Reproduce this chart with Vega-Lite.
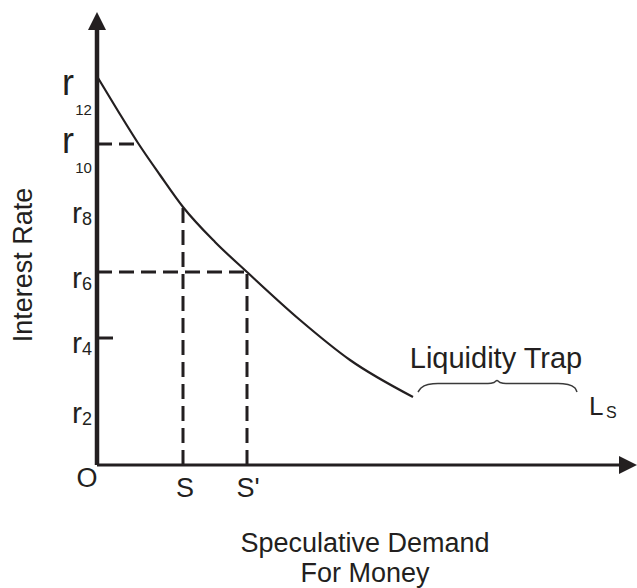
{
  "$schema": "https://vega.github.io/schema/vega-lite/v6.json",
  "width": 540,
  "height": 453,
  "padding": {"left": 97, "top": 12, "right": 0, "bottom": 123},
  "autosize": {"type": "none"},
  "background": "white",
  "config": {"view": {"stroke": null}, "text": {"font": "Liberation Sans", "color": "#231f20"}},
  "datasets": {
    "curve": [
      {"q": 1, "r": 387}, {"q": 21, "r": 354}, {"q": 41, "r": 322}, {"q": 63, "r": 290},
      {"q": 86, "r": 258}, {"q": 118, "r": 223}, {"q": 150, "r": 193}, {"q": 203, "r": 145},
      {"q": 253, "r": 105}, {"q": 316, "r": 68}
    ],
    "dashes": [
      {"x1": 0, "x2": 41, "y1": 321, "y2": 321},
      {"x1": 86, "x2": 86, "y1": 0, "y2": 258},
      {"x1": 0, "x2": 150, "y1": 193, "y2": 193},
      {"x1": 150, "x2": 150, "y1": 0, "y2": 193}
    ],
    "brace": [
      {"q": 321, "r": 73}, {"q": 324, "r": 77}, {"q": 331, "r": 80.5}, {"q": 341, "r": 81.5},
      {"q": 391, "r": 81.5}, {"q": 397, "r": 82.5}, {"q": 400, "r": 84.5}, {"q": 403, "r": 82.5},
      {"q": 409, "r": 81.5}, {"q": 461, "r": 81.5}, {"q": 471, "r": 80.5}, {"q": 478, "r": 77},
      {"q": 480, "r": 73}
    ],
    "labels": [
      {"g": "bigr", "lx": -29, "ly": 370, "t": "r"},
      {"g": "bigr", "lx": -29, "ly": 312, "t": "r"},
      {"g": "tiny", "lx": -13.5, "ly": 350, "t": "12"},
      {"g": "tiny", "lx": -13.5, "ly": 292, "t": "10"},
      {"g": "r", "lx": -20, "ly": 242, "t": "r"},
      {"g": "r", "lx": -20, "ly": 177, "t": "r"},
      {"g": "r", "lx": -20, "ly": 112, "t": "r"},
      {"g": "r", "lx": -20, "ly": 42, "t": "r"},
      {"g": "sub", "lx": -11, "ly": 240, "t": "8"},
      {"g": "sub", "lx": -11, "ly": 175, "t": "6"},
      {"g": "sub", "lx": -11, "ly": 110, "t": "4"},
      {"g": "sub", "lx": -11, "ly": 40, "t": "2"},
      {"g": "main", "lx": -10, "ly": -22, "t": "O"},
      {"g": "main", "lx": 88, "ly": -32, "t": "S"},
      {"g": "main", "lx": 151, "ly": -32, "t": "S'"},
      {"g": "title", "lx": 268, "ly": -87, "t": "Speculative Demand"},
      {"g": "title", "lx": 268, "ly": -117, "t": "For Money"},
      {"g": "trap", "lx": 399, "ly": 97, "t": "Liquidity Trap"},
      {"g": "L", "lx": 495, "ly": 50, "t": "L"},
      {"g": "Lsub", "lx": 509, "ly": 47, "t": "S"},
      {"g": "ytitle", "lx": -65, "ly": 200, "t": "Interest Rate"}
    ],
    "axes": [
      {"x1": 0, "x2": 0, "y1": 0, "y2": 436, "w": "y"},
      {"x1": 0, "x2": 524, "y1": 0, "y2": 0, "w": "x"},
      {"x1": 0, "x2": 16, "y1": 127, "y2": 127, "w": "tick"}
    ],
    "arrows": [
      {"q": 0, "r": 444, "d": "up"},
      {"q": 531, "r": 0, "d": "right"}
    ]
  },
  "layer": [
    {
      "data": {"name": "dashes"},
      "mark": {"type": "rule", "strokeWidth": 3, "strokeDash": [15, 7], "color": "#231f20"},
      "encoding": {
        "x": {"field": "x1", "type": "quantitative", "scale": {"domain": [0, 540], "nice": false, "zero": false}, "axis": null},
        "x2": {"field": "x2"},
        "y": {"field": "y1", "type": "quantitative", "scale": {"domain": [0, 453], "nice": false, "zero": false}, "axis": null},
        "y2": {"field": "y2"}
      }
    },
    {
      "data": {"name": "curve"},
      "mark": {"type": "line", "strokeWidth": 2.2, "color": "#231f20", "interpolate": "monotone"},
      "encoding": {
        "x": {"field": "q", "type": "quantitative", "axis": null},
        "y": {"field": "r", "type": "quantitative", "axis": null}
      }
    },
    {
      "data": {"name": "brace"},
      "mark": {"type": "line", "strokeWidth": 1.5, "color": "#3a3a3a", "interpolate": "monotone"},
      "encoding": {
        "x": {"field": "q", "type": "quantitative", "axis": null},
        "y": {"field": "r", "type": "quantitative", "axis": null}
      }
    },
    {
      "data": {"name": "axes"},
      "transform": [{"filter": "datum.w === 'y'"}],
      "mark": {"type": "rule", "strokeWidth": 4.5, "color": "#231f20"},
      "encoding": {
        "x": {"field": "x1", "type": "quantitative", "axis": null},
        "x2": {"field": "x2"},
        "y": {"field": "y1", "type": "quantitative", "axis": null},
        "y2": {"field": "y2"}
      }
    },
    {
      "data": {"name": "axes"},
      "transform": [{"filter": "datum.w !== 'y'"}],
      "mark": {"type": "rule", "strokeWidth": 3, "color": "#231f20"},
      "encoding": {
        "x": {"field": "x1", "type": "quantitative", "axis": null},
        "x2": {"field": "x2"},
        "y": {"field": "y1", "type": "quantitative", "axis": null},
        "y2": {"field": "y2"}
      }
    },
    {
      "data": {"name": "arrows"},
      "transform": [{"filter": "datum.d === 'up'"}],
      "mark": {"type": "point", "shape": "M0,-1L1,1L-1,1Z", "filled": true, "size": 324, "color": "#231f20", "opacity": 1},
      "encoding": {
        "x": {"field": "q", "type": "quantitative", "axis": null},
        "y": {"field": "r", "type": "quantitative", "axis": null}
      }
    },
    {
      "data": {"name": "arrows"},
      "transform": [{"filter": "datum.d === 'right'"}],
      "mark": {"type": "point", "shape": "M1,0L-1,-1L-1,1Z", "filled": true, "size": 324, "color": "#231f20", "opacity": 1},
      "encoding": {
        "x": {"field": "q", "type": "quantitative", "axis": null},
        "y": {"field": "r", "type": "quantitative", "axis": null}
      }
    },
    {
      "data": {"name": "labels"},
      "transform": [{"filter": "datum.g === 'bigr'"}],
      "mark": {"type": "text", "fontSize": 36, "align": "center", "baseline": "alphabetic"},
      "encoding": {
        "x": {"field": "lx", "type": "quantitative", "axis": null},
        "y": {"field": "ly", "type": "quantitative", "axis": null},
        "text": {"field": "t"}
      }
    },
    {
      "data": {"name": "labels"},
      "transform": [{"filter": "datum.g === 'tiny'"}],
      "mark": {"type": "text", "fontSize": 15, "align": "center", "baseline": "alphabetic"},
      "encoding": {
        "x": {"field": "lx", "type": "quantitative", "axis": null},
        "y": {"field": "ly", "type": "quantitative", "axis": null},
        "text": {"field": "t"}
      }
    },
    {
      "data": {"name": "labels"},
      "transform": [{"filter": "datum.g === 'r'"}],
      "mark": {"type": "text", "fontSize": 30, "align": "center", "baseline": "alphabetic"},
      "encoding": {
        "x": {"field": "lx", "type": "quantitative", "axis": null},
        "y": {"field": "ly", "type": "quantitative", "axis": null},
        "text": {"field": "t"}
      }
    },
    {
      "data": {"name": "labels"},
      "transform": [{"filter": "datum.g === 'sub'"}],
      "mark": {"type": "text", "fontSize": 18, "align": "left", "baseline": "alphabetic", "dx": -4},
      "encoding": {
        "x": {"field": "lx", "type": "quantitative", "axis": null},
        "y": {"field": "ly", "type": "quantitative", "axis": null},
        "text": {"field": "t"}
      }
    },
    {
      "data": {"name": "labels"},
      "transform": [{"filter": "datum.g === 'Lsub'"}],
      "mark": {"type": "text", "fontSize": 16, "align": "left", "baseline": "alphabetic"},
      "encoding": {
        "x": {"field": "lx", "type": "quantitative", "axis": null},
        "y": {"field": "ly", "type": "quantitative", "axis": null},
        "text": {"field": "t"}
      }
    },
    {
      "data": {"name": "labels"},
      "transform": [{"filter": "datum.g === 'main' || datum.g === 'title'"}],
      "mark": {"type": "text", "fontSize": 27, "align": "center", "baseline": "alphabetic"},
      "encoding": {
        "x": {"field": "lx", "type": "quantitative", "axis": null},
        "y": {"field": "ly", "type": "quantitative", "axis": null},
        "text": {"field": "t"}
      }
    },
    {
      "data": {"name": "labels"},
      "transform": [{"filter": "datum.g === 'L'"}],
      "mark": {"type": "text", "fontSize": 26, "align": "left", "baseline": "alphabetic", "dx": -3},
      "encoding": {
        "x": {"field": "lx", "type": "quantitative", "axis": null},
        "y": {"field": "ly", "type": "quantitative", "axis": null},
        "text": {"field": "t"}
      }
    },
    {
      "data": {"name": "labels"},
      "transform": [{"filter": "datum.g === 'trap'"}],
      "mark": {"type": "text", "fontSize": 29, "align": "center", "baseline": "alphabetic"},
      "encoding": {
        "x": {"field": "lx", "type": "quantitative", "axis": null},
        "y": {"field": "ly", "type": "quantitative", "axis": null},
        "text": {"field": "t"}
      }
    },
    {
      "data": {"name": "labels"},
      "transform": [{"filter": "datum.g === 'ytitle'"}],
      "mark": {"type": "text", "fontSize": 27, "align": "center", "baseline": "alphabetic", "angle": 270},
      "encoding": {
        "x": {"field": "lx", "type": "quantitative", "axis": null},
        "y": {"field": "ly", "type": "quantitative", "axis": null},
        "text": {"field": "t"}
      }
    }
  ]
}
